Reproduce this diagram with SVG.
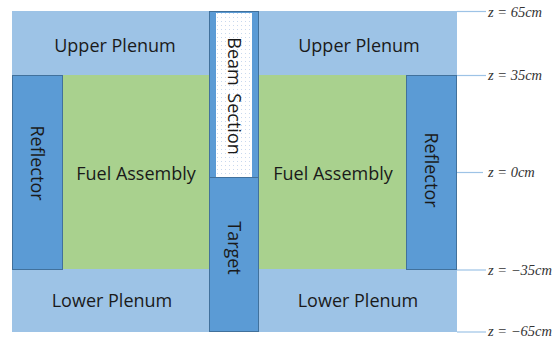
<svg xmlns="http://www.w3.org/2000/svg" width="560" height="338" viewBox="0 0 560 338">
  <defs>
    <pattern id="dots" width="4" height="4" patternUnits="userSpaceOnUse">
      <rect width="4" height="4" fill="#ffffff"/>
      <rect x="1" y="1" width="1" height="1" fill="#c9d9ee"/>
    </pattern>
  </defs>
  <style>
    .plenum { fill: #9dc3e6; }
    .fuel { fill: #a9d18e; }
    .blue { fill: #5b9bd5; stroke: #41719c; stroke-width: 1; }
    .lbl { font-family: "Open Sans", "Noto Sans", "Liberation Sans", sans-serif; font-size: 18px; fill: #1a1a1a; text-anchor: middle; }
    .lvl { stroke: #9dc3e6; stroke-width: 1.2; }
    .z { font-family: "Liberation Serif", "DejaVu Serif", serif; font-style: italic; font-size: 14.5px; fill: #333; }
  </style>

  <rect width="560" height="338" fill="#ffffff"/>

  <g id="upper-plenum">
    <rect class="plenum" x="12" y="11" width="445" height="64"/>
    <text class="lbl" x="115" y="52">Upper Plenum</text>
    <text class="lbl" x="359" y="52">Upper Plenum</text>
  </g>

  <g id="lower-plenum">
    <rect class="plenum" x="12" y="269" width="445" height="63"/>
    <text class="lbl" x="112" y="307">Lower Plenum</text>
    <text class="lbl" x="358" y="307">Lower Plenum</text>
  </g>

  <g id="fuel-left">
    <rect class="fuel" x="63" y="75" width="146" height="194"/>
    <text class="lbl" x="136" y="180">Fuel Assembly</text>
  </g>

  <g id="fuel-right">
    <rect class="fuel" x="259" y="75" width="147" height="194"/>
    <text class="lbl" x="333" y="180">Fuel Assembly</text>
  </g>

  <g id="reflector-left">
    <rect class="blue" x="12.5" y="75.5" width="50" height="194"/>
    <text class="lbl" transform="translate(31,163) rotate(90)">Reflector</text>
  </g>

  <g id="reflector-right">
    <rect class="blue" x="406.5" y="75.5" width="50" height="194"/>
    <text class="lbl" transform="translate(425,170) rotate(90)">Reflector</text>
  </g>

  <g id="beam-section">
    <rect class="blue" x="209.5" y="11.5" width="49" height="166"/>
    <rect x="216" y="13" width="36" height="164" fill="url(#dots)"/>
    <text class="lbl" transform="translate(228,96) rotate(90)" word-spacing="3">Beam Section</text>
  </g>

  <g id="target">
    <rect class="blue" x="209.5" y="177.5" width="49" height="154"/>
    <text class="lbl" transform="translate(228,248) rotate(90)">Target</text>
  </g>

  <g id="connectors">
    <line class="lvl" x1="457" y1="11.5" x2="486" y2="11.5"/>
    <line class="lvl" x1="457" y1="75.5" x2="486" y2="75.5"/>
    <line class="lvl" x1="457" y1="172.5" x2="483" y2="172.5"/>
    <line class="lvl" x1="457" y1="270" x2="486" y2="270"/>
    <line class="lvl" x1="457" y1="332" x2="486" y2="332"/>
  </g>

  <g id="levels">
    <text class="z" x="488" y="17">z = 65cm</text>
    <text class="z" x="488" y="80">z = 35cm</text>
    <text class="z" x="488" y="177">z = 0cm</text>
    <text class="z" x="488" y="275">z = −35cm</text>
    <text class="z" x="488" y="335.5">z = −65cm</text>
  </g>
</svg>
